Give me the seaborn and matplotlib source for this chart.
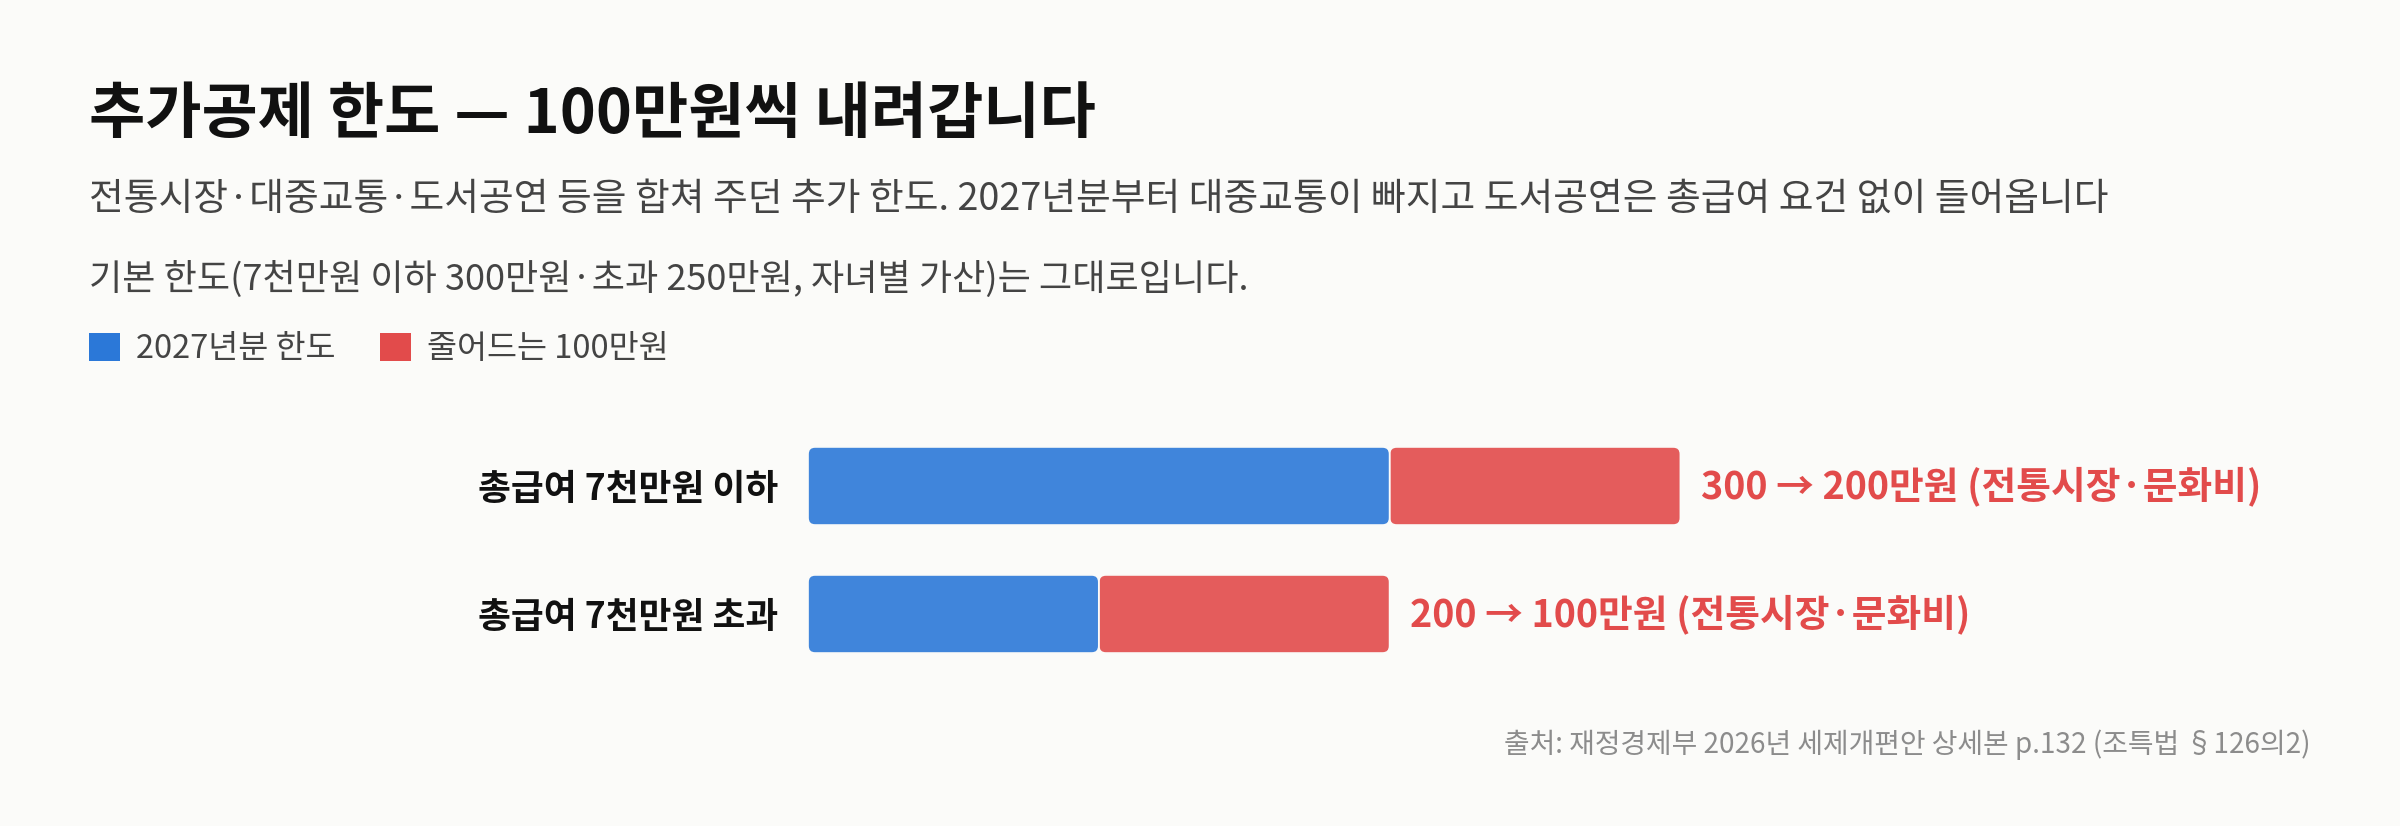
import numpy as np
import pandas as pd
import matplotlib.pyplot as plt
import seaborn as sns
from matplotlib.patches import FancyBboxPatch, Patch

# =========================
# Data
# =========================
categories = ["총급여 7천만원 이하", "총급여 7천만원 초과"]
limit_2027 = [200, 100]      # 2027년분 한도 (만원)
cut_amount = [100, 100]      # 줄어드는 금액 (만원)
notes = ["300 → 200만원 (전통시장·문화비)", "200 → 100만원 (전통시장·문화비)"]
legend_labels = ["2027년분 한도", "줄어드는 100만원"]

title = "추가공제 한도 — 100만원씩 내려갑니다"
subtitle_1 = ("전통시장·대중교통·도서공연 등을 합쳐 주던 추가 한도. 2027년분부터 대중교통이 빠지고 "
              "도서공연은 총급여 요건 없이 들어옵니다")
subtitle_2 = "기본 한도(7천만원 이하 300만원·초과 250만원, 자녀별 가산)는 그대로입니다."
source = "출처: 재정경제부 2026년 세제개편안 상세본 p.132 (조특법 §126의2)"

# =========================
# Style
# =========================
BG = "#FBFBF9"
BLUE = "#2B78D8"
RED = "#E24B4B"

sns.set_theme(style="white", rc={"figure.facecolor": BG, "axes.facecolor": BG})
plt.rcParams["font.family"] = ["Noto Sans CJK KR", "DejaVu Sans"]

df = pd.DataFrame({"group": categories, "limit": limit_2027, "cut": cut_amount})
df["total"] = df["limit"] + df["cut"]

W, H = 2400, 826
fig = plt.figure(figsize=(W / 100, H / 100), dpi=100)
ax = fig.add_axes([808 / W, 1 - 700 / H, 1454 / W, 280 / H])

# =========================
# Bars: red (total) then blue (limit), red moved to the right part
# =========================
sns.barplot(data=df, x="total", y="group", color=RED, saturation=1,
            width=0.61, alpha=0.9, ax=ax)
sns.barplot(data=df, x="limit", y="group", color=BLUE, saturation=1,
            width=0.61, alpha=0.9, ax=ax)

red_bars = list(ax.containers[0])
blue_bars = list(ax.containers[1])
for i, p in enumerate(red_bars):
    p.set_x(df["limit"][i])
    p.set_width(df["cut"][i])

# rounded corners
rx = 2.4
ry = 0.055
for p in red_bars + blue_bars:
    fb = FancyBboxPatch((p.get_x(), p.get_y()), p.get_width(), p.get_height(),
                        boxstyle=f"round,pad=0,rounding_size={rx}",
                        mutation_aspect=ry / rx,
                        facecolor=p.get_facecolor(), edgecolor=BG, linewidth=1.2)
    ax.add_patch(fb)
    p.remove()

# annotations
for i, note in enumerate(notes):
    ax.annotate(note, xy=(df["total"][i], i), xytext=(15, 0),
                textcoords="offset points", va="center", ha="left",
                fontsize=27.2, fontweight="bold", color=RED)

ax.set_xlim(0, 500)
ax.set_ylim(1.672, -0.5156)
ax.set_xlabel("")
ax.set_ylabel("")
ax.set_xticks([])
ax.tick_params(axis="y", length=0, pad=21.6, labelsize=25.7)
for lab in ax.get_yticklabels():
    lab.set_fontweight("bold")
    lab.set_color("#111111")
sns.despine(ax=ax, left=True, bottom=True)

# =========================
# Header texts
# =========================
x0 = 89 / W
fig.text(x0, 1 - 115 / H, title, fontsize=44, fontweight="bold",
         color="#111111", va="center", ha="left")
fig.text(x0, 1 - 199 / H, subtitle_1, fontsize=27.2, color="#444444",
         va="center", ha="left")
fig.text(x0, 1 - 279 / H, subtitle_2, fontsize=26.0, color="#444444",
         va="center", ha="left")

handles = [Patch(facecolor=BLUE, edgecolor="none"),
           Patch(facecolor=RED, edgecolor="none")]
fig.legend(handles, legend_labels, loc="center left",
           bbox_to_anchor=(x0, 1 - 349 / H), ncol=2, frameon=False,
           fontsize=23.5, handlelength=0.95, handleheight=0.95,
           handletextpad=0.5, columnspacing=1.35, borderpad=0,
           borderaxespad=0, labelcolor="#444444")

fig.text(2311 / W, 1 - 745 / H, source, fontsize=20.1, color="#8c8c8c",
         va="center", ha="right")

plt.savefig("out.png", dpi=100, facecolor=BG)
